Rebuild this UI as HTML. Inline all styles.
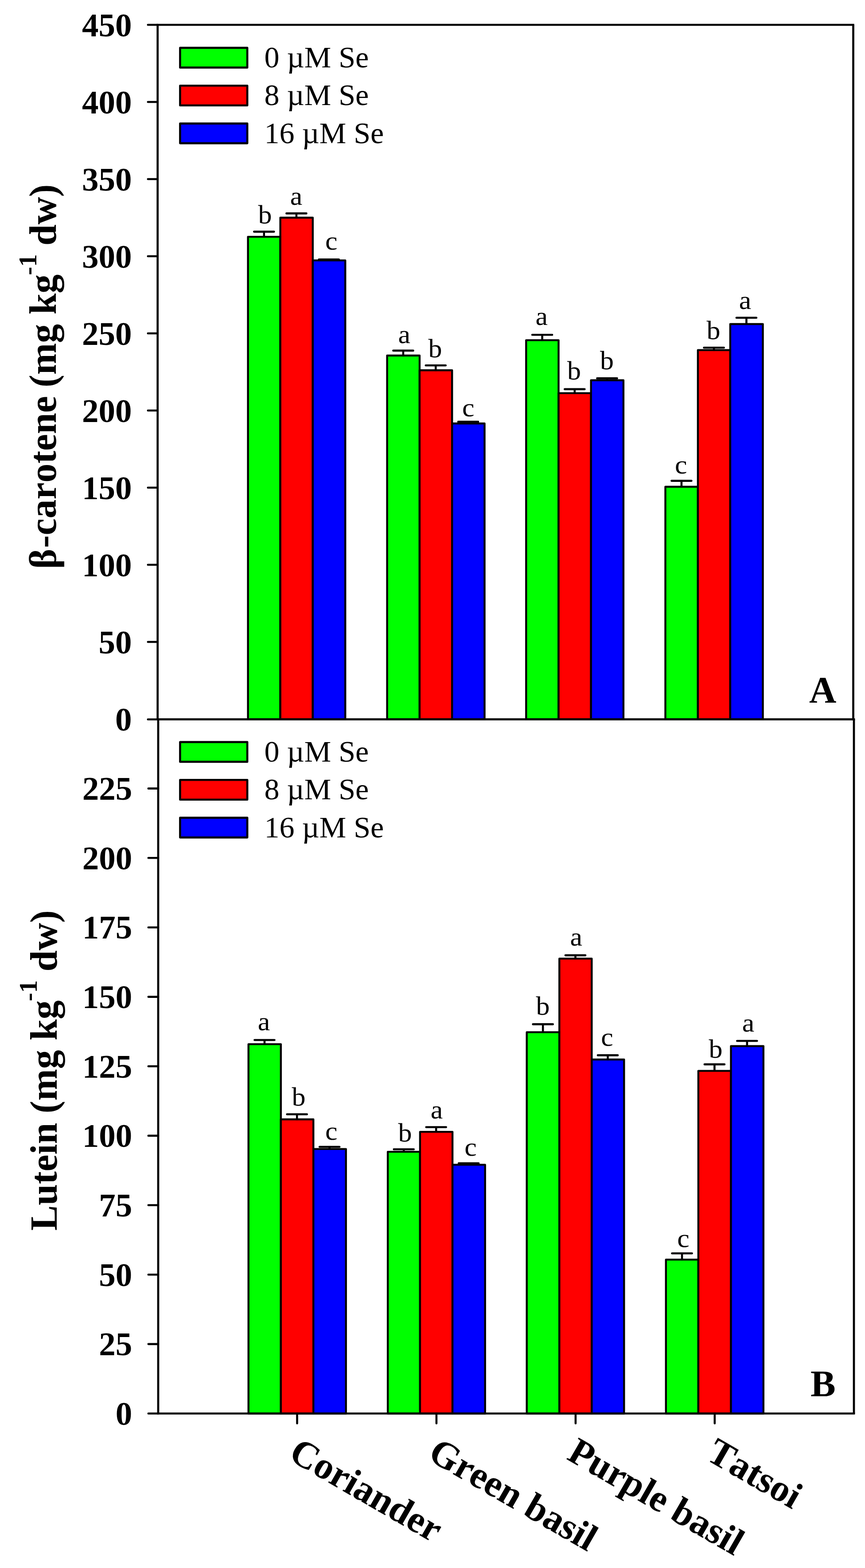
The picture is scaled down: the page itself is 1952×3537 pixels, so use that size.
<!DOCTYPE html>
<html lang="en"><head><meta charset="utf-8"><title>Carotenoid content under selenium treatments</title>
<style>html,body{margin:0;padding:0;background:#fff}svg{display:block}text{font-family:"Liberation Serif","DejaVu Serif",serif;fill:#000;font-kerning:none;font-variant-ligatures:none}.b{font-weight:700}</style></head><body>
<svg width="1952" height="3537" viewBox="0 0 1952 3537" role="img" aria-label="Bar charts of beta-carotene and lutein content under selenium treatments">
<rect width="1952" height="3537" fill="#fff"/>
<path d="M595.8 534.1V522.6M573.3 522.6H618.3" fill="none" stroke="#000" stroke-width="4.6" stroke-linecap="round"/>
<path d="M668.9 491V481.4M646.4 481.4H691.4" fill="none" stroke="#000" stroke-width="4.6" stroke-linecap="round"/>
<path d="M742.2 587.4V585.2M719.7 585.2H764.7" fill="none" stroke="#000" stroke-width="4.6" stroke-linecap="round"/>
<rect x="559.6" y="534.1" width="73" height="1088.6" fill="#00ff00" stroke="#000" stroke-width="4.4" stroke-linejoin="round"/>
<rect x="632.6" y="491" width="73.2" height="1131.7" fill="#ff0000" stroke="#000" stroke-width="4.4" stroke-linejoin="round"/>
<rect x="705.8" y="587.4" width="73.4" height="1035.3" fill="#0000ff" stroke="#000" stroke-width="4.4" stroke-linejoin="round"/>
<path d="M909.95 802V790.9M887.45 790.9H932.45" fill="none" stroke="#000" stroke-width="4.6" stroke-linecap="round"/>
<path d="M983.25 835.3V824.2M960.75 824.2H1005.75" fill="none" stroke="#000" stroke-width="4.6" stroke-linecap="round"/>
<path d="M1056.55 955.3V951.2M1034.05 951.2H1079.05" fill="none" stroke="#000" stroke-width="4.6" stroke-linecap="round"/>
<rect x="873.6" y="802" width="73.3" height="820.7" fill="#00ff00" stroke="#000" stroke-width="4.4" stroke-linejoin="round"/>
<rect x="946.9" y="835.3" width="73.3" height="787.4" fill="#ff0000" stroke="#000" stroke-width="4.4" stroke-linejoin="round"/>
<rect x="1020.2" y="955.3" width="73.3" height="667.4" fill="#0000ff" stroke="#000" stroke-width="4.4" stroke-linejoin="round"/>
<path d="M1223.6 767.4V755.3M1201.1 755.3H1246.1" fill="none" stroke="#000" stroke-width="4.6" stroke-linecap="round"/>
<path d="M1296.8 886.9V877.9M1274.3 877.9H1319.3" fill="none" stroke="#000" stroke-width="4.6" stroke-linecap="round"/>
<path d="M1370 857.8V853.4M1347.5 853.4H1392.5" fill="none" stroke="#000" stroke-width="4.6" stroke-linecap="round"/>
<rect x="1187.3" y="767.4" width="73.2" height="855.3" fill="#00ff00" stroke="#000" stroke-width="4.4" stroke-linejoin="round"/>
<rect x="1260.5" y="886.9" width="73.2" height="735.8" fill="#ff0000" stroke="#000" stroke-width="4.4" stroke-linejoin="round"/>
<rect x="1333.7" y="857.8" width="73.2" height="764.9" fill="#0000ff" stroke="#000" stroke-width="4.4" stroke-linejoin="round"/>
<path d="M1537.9 1098V1084.6M1515.4 1084.6H1560.4" fill="none" stroke="#000" stroke-width="4.6" stroke-linecap="round"/>
<path d="M1611.1 789.7V784.3M1588.6 784.3H1633.6" fill="none" stroke="#000" stroke-width="4.6" stroke-linecap="round"/>
<path d="M1684.4 731V716.8M1661.9 716.8H1706.9" fill="none" stroke="#000" stroke-width="4.6" stroke-linecap="round"/>
<rect x="1501.5" y="1098" width="73.4" height="524.7" fill="#00ff00" stroke="#000" stroke-width="4.4" stroke-linejoin="round"/>
<rect x="1574.9" y="789.7" width="73" height="833" fill="#ff0000" stroke="#000" stroke-width="4.4" stroke-linejoin="round"/>
<rect x="1647.9" y="731" width="73.6" height="891.7" fill="#0000ff" stroke="#000" stroke-width="4.4" stroke-linejoin="round"/>
<path d="M596.95 2355.4V2346M574.45 2346H619.45" fill="none" stroke="#000" stroke-width="4.6" stroke-linecap="round"/>
<path d="M670.2 2525V2513.5M647.7 2513.5H692.7" fill="none" stroke="#000" stroke-width="4.6" stroke-linecap="round"/>
<path d="M743.65 2591.9V2587M721.15 2587H766.15" fill="none" stroke="#000" stroke-width="4.6" stroke-linecap="round"/>
<rect x="560.7" y="2355.4" width="73.1" height="833.1" fill="#00ff00" stroke="#000" stroke-width="4.4" stroke-linejoin="round"/>
<rect x="633.8" y="2525" width="73.4" height="663.5" fill="#ff0000" stroke="#000" stroke-width="4.4" stroke-linejoin="round"/>
<rect x="707.2" y="2591.9" width="73.5" height="596.6" fill="#0000ff" stroke="#000" stroke-width="4.4" stroke-linejoin="round"/>
<path d="M911.2 2598.1V2592.5M888.7 2592.5H933.7" fill="none" stroke="#000" stroke-width="4.6" stroke-linecap="round"/>
<path d="M984.2 2553.1V2542.5M961.7 2542.5H1006.7" fill="none" stroke="#000" stroke-width="4.6" stroke-linecap="round"/>
<path d="M1057.6 2627.4V2624.1M1035.1 2624.1H1080.1" fill="none" stroke="#000" stroke-width="4.6" stroke-linecap="round"/>
<rect x="875.1" y="2598.1" width="72.8" height="590.4" fill="#00ff00" stroke="#000" stroke-width="4.4" stroke-linejoin="round"/>
<rect x="947.9" y="2553.1" width="73.2" height="635.4" fill="#ff0000" stroke="#000" stroke-width="4.4" stroke-linejoin="round"/>
<rect x="1021.1" y="2627.4" width="73.6" height="561.1" fill="#0000ff" stroke="#000" stroke-width="4.4" stroke-linejoin="round"/>
<path d="M1225.2 2328.4V2310.4M1202.7 2310.4H1247.7" fill="none" stroke="#000" stroke-width="4.6" stroke-linecap="round"/>
<path d="M1298.5 2162.4V2154.9M1276 2154.9H1321" fill="none" stroke="#000" stroke-width="4.6" stroke-linecap="round"/>
<path d="M1371.5 2390V2380.4M1349 2380.4H1394" fill="none" stroke="#000" stroke-width="4.6" stroke-linecap="round"/>
<rect x="1188.7" y="2328.4" width="73.6" height="860.1" fill="#00ff00" stroke="#000" stroke-width="4.4" stroke-linejoin="round"/>
<rect x="1262.3" y="2162.4" width="73" height="1026.1" fill="#ff0000" stroke="#000" stroke-width="4.4" stroke-linejoin="round"/>
<rect x="1335.3" y="2390" width="73" height="798.5" fill="#0000ff" stroke="#000" stroke-width="4.4" stroke-linejoin="round"/>
<path d="M1539.05 2841.4V2827.3M1516.55 2827.3H1561.55" fill="none" stroke="#000" stroke-width="4.6" stroke-linecap="round"/>
<path d="M1612.4 2415.6V2400.9M1589.9 2400.9H1634.9" fill="none" stroke="#000" stroke-width="4.6" stroke-linecap="round"/>
<path d="M1685.85 2359.7V2348M1663.35 2348H1708.35" fill="none" stroke="#000" stroke-width="4.6" stroke-linecap="round"/>
<rect x="1502.8" y="2841.4" width="73.1" height="347.1" fill="#00ff00" stroke="#000" stroke-width="4.4" stroke-linejoin="round"/>
<rect x="1575.9" y="2415.6" width="73.6" height="772.9" fill="#ff0000" stroke="#000" stroke-width="4.4" stroke-linejoin="round"/>
<rect x="1649.5" y="2359.7" width="73.3" height="828.8" fill="#0000ff" stroke="#000" stroke-width="4.4" stroke-linejoin="round"/>
<text transform="translate(582.39 503.78) scale(1 0.96)" font-size="62.0">b</text>
<text transform="translate(654.67 462.28) scale(1 0.96)" font-size="62.0">a</text>
<text transform="translate(734.06 563.48) scale(1 0.96)" font-size="62.0">c</text>
<text transform="translate(898.57 773.78) scale(1 0.96)" font-size="62.0">a</text>
<text transform="translate(966.39 805.88) scale(1 0.96)" font-size="62.0">b</text>
<text transform="translate(1043.07 939.38) scale(1 0.96)" font-size="62.0">c</text>
<text transform="translate(1208.57 732.58) scale(1 0.96)" font-size="62.0">a</text>
<text transform="translate(1279.89 856.18) scale(1 0.96)" font-size="62.0">b</text>
<text transform="translate(1353.89 832.78) scale(1 0.96)" font-size="62.0">b</text>
<text transform="translate(1523.02 1068.18) scale(1 0.96)" font-size="62.0">c</text>
<text transform="translate(1594.49 764.68) scale(1 0.96)" font-size="62.0">b</text>
<text transform="translate(1667.67 696.58) scale(1 0.96)" font-size="62.0">a</text>
<text transform="translate(581.67 2324.28) scale(1 0.96)" font-size="62.0">a</text>
<text transform="translate(658.39 2493.98) scale(1 0.96)" font-size="62.0">b</text>
<text transform="translate(734.06 2571.18) scale(1 0.96)" font-size="62.0">c</text>
<text transform="translate(898.39 2574.98) scale(1 0.96)" font-size="62.0">b</text>
<text transform="translate(971.77 2523.28) scale(1 0.96)" font-size="62.0">a</text>
<text transform="translate(1048.22 2607.08) scale(1 0.96)" font-size="62.0">c</text>
<text transform="translate(1209.59 2289.28) scale(1 0.96)" font-size="62.0">b</text>
<text transform="translate(1286.47 2133.38) scale(1 0.96)" font-size="62.0">a</text>
<text transform="translate(1356.21 2358.88) scale(1 0.96)" font-size="62.0">c</text>
<text transform="translate(1528.27 2813.18) scale(1 0.96)" font-size="62.0">c</text>
<text transform="translate(1599.39 2385.98) scale(1 0.96)" font-size="62.0">b</text>
<text transform="translate(1674.67 2327.28) scale(1 0.96)" font-size="62.0">a</text>
<rect x="406.4" y="107.9" width="151.7" height="44.5" fill="#00ff00" stroke="#000" stroke-width="4.6" stroke-linejoin="round"/>
<text x="596.5" y="152" font-size="68.0">0 µM Se</text>
<rect x="406.4" y="193.25" width="151.7" height="44.5" fill="#ff0000" stroke="#000" stroke-width="4.6" stroke-linejoin="round"/>
<text x="596.5" y="237.35" font-size="68.0">8 µM Se</text>
<rect x="406.4" y="278.6" width="151.7" height="44.5" fill="#0000ff" stroke="#000" stroke-width="4.6" stroke-linejoin="round"/>
<text x="596.5" y="322.7" font-size="68.0">16 µM Se</text>
<rect x="406.4" y="1673.9" width="151.7" height="44.5" fill="#00ff00" stroke="#000" stroke-width="4.6" stroke-linejoin="round"/>
<text x="596.5" y="1718" font-size="68.0">0 µM Se</text>
<rect x="406.4" y="1759.25" width="151.7" height="44.5" fill="#ff0000" stroke="#000" stroke-width="4.6" stroke-linejoin="round"/>
<text x="596.5" y="1803.35" font-size="68.0">8 µM Se</text>
<rect x="406.4" y="1844.6" width="151.7" height="44.5" fill="#0000ff" stroke="#000" stroke-width="4.6" stroke-linejoin="round"/>
<text x="596.5" y="1888.7" font-size="68.0">16 µM Se</text>
<path d="M355.7 56L355.7 1622.7" fill="none" stroke="#000" stroke-width="4.7" stroke-linecap="butt"/>
<path d="M1925.5 56L1925.5 1622.7" fill="none" stroke="#000" stroke-width="4.7" stroke-linecap="butt"/>
<path d="M355.7 56L1925.5 56" fill="none" stroke="#000" stroke-width="4.3" stroke-linecap="square"/>
<path d="M357 1622.7L357 3188.5" fill="none" stroke="#000" stroke-width="4.7" stroke-linecap="butt"/>
<path d="M1927 1622.7L1927 3188.5" fill="none" stroke="#000" stroke-width="4.7" stroke-linecap="butt"/>
<path d="M357 3188.5L1927 3188.5" fill="none" stroke="#000" stroke-width="4.7" stroke-linecap="square"/>
<path d="M355.7 1622.7L1927 1622.7" fill="none" stroke="#000" stroke-width="4.8" stroke-linecap="square"/>
<text class="b" x="297.6" y="81.5" font-size="75.0" text-anchor="end">450</text>
<text class="b" x="297.6" y="255.5" font-size="75.0" text-anchor="end">400</text>
<text class="b" x="297.6" y="429.5" font-size="75.0" text-anchor="end">350</text>
<text class="b" x="297.6" y="603.5" font-size="75.0" text-anchor="end">300</text>
<text class="b" x="297.6" y="777.5" font-size="75.0" text-anchor="end">250</text>
<text class="b" x="297.6" y="951.5" font-size="75.0" text-anchor="end">200</text>
<text class="b" x="297.6" y="1125.5" font-size="75.0" text-anchor="end">150</text>
<text class="b" x="297.6" y="1299.5" font-size="75.0" text-anchor="end">100</text>
<text class="b" x="297.6" y="1473.5" font-size="75.0" text-anchor="end">50</text>
<text class="b" x="297.6" y="1647.5" font-size="75.0" text-anchor="end">0</text>
<text class="b" x="298.3" y="3214" font-size="75.0" text-anchor="end">0</text>
<text class="b" x="298.3" y="3057.35" font-size="75.0" text-anchor="end">25</text>
<text class="b" x="298.3" y="2900.7" font-size="75.0" text-anchor="end">50</text>
<text class="b" x="298.3" y="2744.05" font-size="75.0" text-anchor="end">75</text>
<text class="b" x="298.3" y="2587.4" font-size="75.0" text-anchor="end">100</text>
<text class="b" x="298.3" y="2430.75" font-size="75.0" text-anchor="end">125</text>
<text class="b" x="298.3" y="2274.1" font-size="75.0" text-anchor="end">150</text>
<text class="b" x="298.3" y="2117.45" font-size="75.0" text-anchor="end">175</text>
<text class="b" x="298.3" y="1960.8" font-size="75.0" text-anchor="end">200</text>
<text class="b" x="298.3" y="1804.15" font-size="75.0" text-anchor="end">225</text>
<path d="M333.8 56H355.7M333.8 230H355.7M333.8 404H355.7M333.8 578H355.7M333.8 752H355.7M333.8 926H355.7M333.8 1100H355.7M333.8 1274H355.7M333.8 1448H355.7M333.8 1622.7H355.7M334.8 3188.5H357M334.8 3031.85H357M334.8 2875.2H357M334.8 2718.55H357M334.8 2561.9H357M334.8 2405.25H357M334.8 2248.6H357M334.8 2091.95H357M334.8 1935.3H357M334.8 1778.65H357M670.5 3188.5V3210.7M984.9 3188.5V3210.7M1298.9 3188.5V3210.7M1612.8 3188.5V3210.7" fill="none" stroke="#000" stroke-width="4.6" stroke-linecap="round"/>
<text class="b" transform="translate(126 1283.3) rotate(-90)" font-size="85.8">β<tspan dx="2">-carotene</tspan><tspan dx="-2.2"> </tspan>(mg kg<tspan font-size="57.0" dy="-44.5" dx="-2">-1</tspan><tspan dy="44.5" dx="-2"> dw)</tspan></text>
<text class="b" transform="translate(127.5 2776) rotate(-90)" font-size="85.8">Lutein (mg kg<tspan font-size="57.0" dy="-44.5" dx="-2">-1</tspan><tspan dy="44.5" dx="-2"> dw)</tspan></text>
<text class="b" x="1826" y="1585" font-size="85.0">A</text>
<text class="b" x="1829" y="3150.4" font-size="85.0">B</text>
<text class="b" transform="translate(648 3290.5) rotate(30)" font-size="85.5">Coriander</text>
<text class="b" transform="translate(962.2 3290.5) rotate(30)" font-size="85.5">Green basil</text>
<text class="b" transform="translate(1276.6 3290.5) rotate(30)" font-size="85.5">Purple basil</text>
<text class="b" transform="translate(1590.8 3291) rotate(30)" font-size="85.5">Tatsoi</text>
</svg></body></html>
